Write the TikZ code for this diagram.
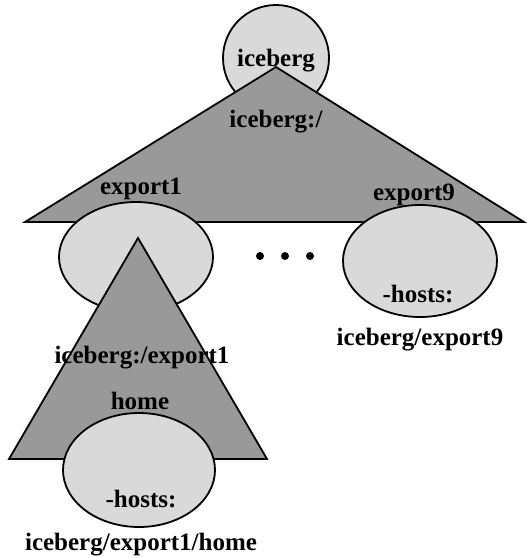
\documentclass[tikz,border=0pt]{standalone}
\usepackage{fontspec}
\setmainfont{Liberation Serif}
\begin{document}
\begin{tikzpicture}[x=1pt,y=-1pt,
  outline/.style={draw=black,line width=1.8pt,line join=miter},
  mount/.style={outline,fill=lightdisk},
  volume/.style={outline,fill=darkvol},
  lbl/.style={anchor=base,inner sep=0pt,font=\fontsize{25}{30}\selectfont\bfseries},
  dot/.style={circle,fill=black,inner sep=0pt,minimum size=8pt}]
\definecolor{lightdisk}{gray}{0.85}
\definecolor{darkvol}{gray}{0.6}
\useasboundingbox (0,0) rectangle (527,558);

% host node
\filldraw[mount] (276,58) circle[radius=53];
% root file system
\filldraw[volume] (276,67) -- (25,222) -- (524,222) -- cycle;
% exported directories
\filldraw[mount] (136,257) ellipse[x radius=77,y radius=55];
\filldraw[mount] (420,261) ellipse[x radius=77,y radius=56];
% export1 file system
\filldraw[volume] (138,238) -- (9,459) -- (267,459) -- cycle;
\filldraw[mount] (139,470) ellipse[x radius=76,y radius=57];

% ellipsis between exports
\node[dot] (d1) at (260,256) {};
\node[dot] (d2) at (285,256) {};
\node[dot] (d3) at (310,256) {};

% labels
\node[lbl] (host)  at (276,66)  {iceberg};
\node[lbl] (root)  at (276,127) {iceberg:/};
\node[lbl] (exp1)  at (141,194) {export1};
\node[lbl] (exp9)  at (414,200) {export9};
\node[lbl] (h9)    at (418,302) {-hosts:};
\node[lbl] (p9)    at (420,345) {iceberg/export9};
\node[lbl] (sub1)  at (142,363) {iceberg:/export1};
\node[lbl] (home)  at (140,409) {home};
\node[lbl] (hh)    at (141,507) {-hosts:};
\node[lbl] (ph)    at (141,550) {iceberg/export1/home};
\end{tikzpicture}
\end{document}
